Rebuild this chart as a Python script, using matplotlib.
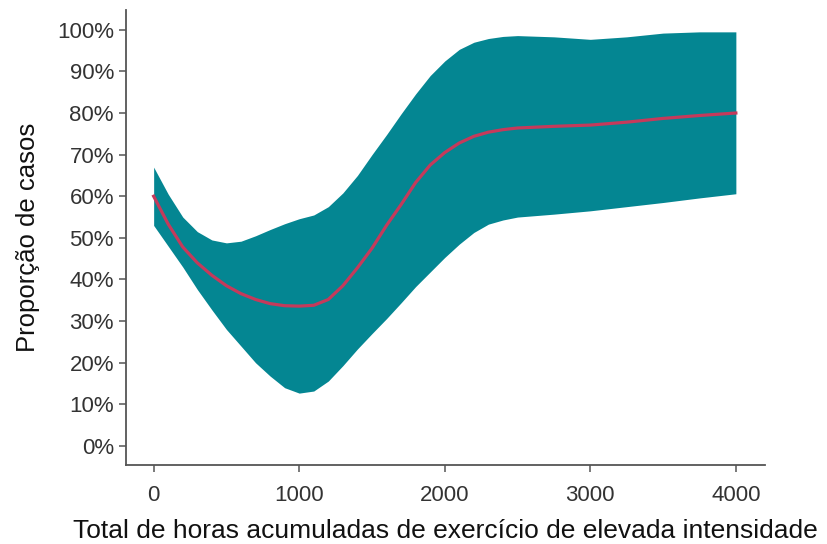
import matplotlib
matplotlib.use("Agg")
import matplotlib.pyplot as plt
from matplotlib.ticker import PercentFormatter

# (hours, % of cases)
hours = [0, 100, 200, 300, 400, 500, 600, 700, 800, 900, 1000, 1100, 1200,
         1300, 1400, 1500, 1600, 1700, 1800, 1900, 2000, 2100, 2200, 2300,
         2400, 2500, 2750, 3000, 3250, 3500, 3750, 4000]
mean_pct = [60, 53.3, 47.8, 44, 41, 38.5, 36.6, 35.2, 34.2, 33.7, 33.6, 33.8,
            35.2, 38.5, 42.8, 47.5, 53, 58, 63.3, 67.5, 70.5, 72.8, 74.4,
            75.4, 76, 76.4, 76.8, 77.1, 77.8, 78.7, 79.4, 80]
upper_pct = [67, 60.5, 55, 51.5, 49.5, 48.8, 49.2, 50.5, 52, 53.4, 54.6,
             55.5, 57.5, 60.8, 65, 70, 74.8, 79.8, 84.6, 89, 92.5, 95.3, 97,
             97.9, 98.4, 98.6, 98.3, 97.7, 98.3, 99.2, 99.5, 99.5]
lower_pct = [53, 48, 43, 37.6, 32.7, 28, 24, 20, 16.8, 14, 12.7, 13.2, 15.6,
             19.3, 23.3, 27, 30.6, 34.4, 38.3, 41.8, 45.3, 48.5, 51.3, 53.3,
             54.3, 55, 55.7, 56.5, 57.5, 58.5, 59.6, 60.6]

x_ticks = [0, 1000, 2000, 3000, 4000]
y_ticks = list(range(0, 101, 10))

plt.rcParams["font.family"] = ["Liberation Sans", "DejaVu Sans"]

fig = plt.figure(figsize=(8.27, 5.44), dpi=100)
ax = fig.add_axes([0.152, 0.145, 0.773, 0.837])

ax.fill_between(hours, lower_pct, upper_pct, color="#048692", lw=0)
ax.plot(hours, mean_pct, color="#c53a5b", lw=2.3)

ax.set_xlim(-192, 4200)
ax.set_ylim(-4.6, 104.8)
ax.set_xticks(x_ticks)
ax.set_yticks(y_ticks)
ax.yaxis.set_major_formatter(PercentFormatter(decimals=0))

for side in ("top", "right"):
    ax.spines[side].set_visible(False)
for side in ("left", "bottom"):
    ax.spines[side].set_color("#555555")
    ax.spines[side].set_linewidth(1.3)
ax.tick_params(axis="both", colors="#555555", labelcolor="#333333",
               labelsize=16, length=5, width=1.1, direction="out")
ax.tick_params(axis="x", pad=9)

ax.set_xlabel("Total de horas acumuladas de exercício de elevada intensidade",
              fontsize=19, color="#111111", labelpad=10)
ax.set_ylabel("Proporção de casos", fontsize=18.5, color="#111111", labelpad=12)

fig.savefig("out.png", dpi=100)
